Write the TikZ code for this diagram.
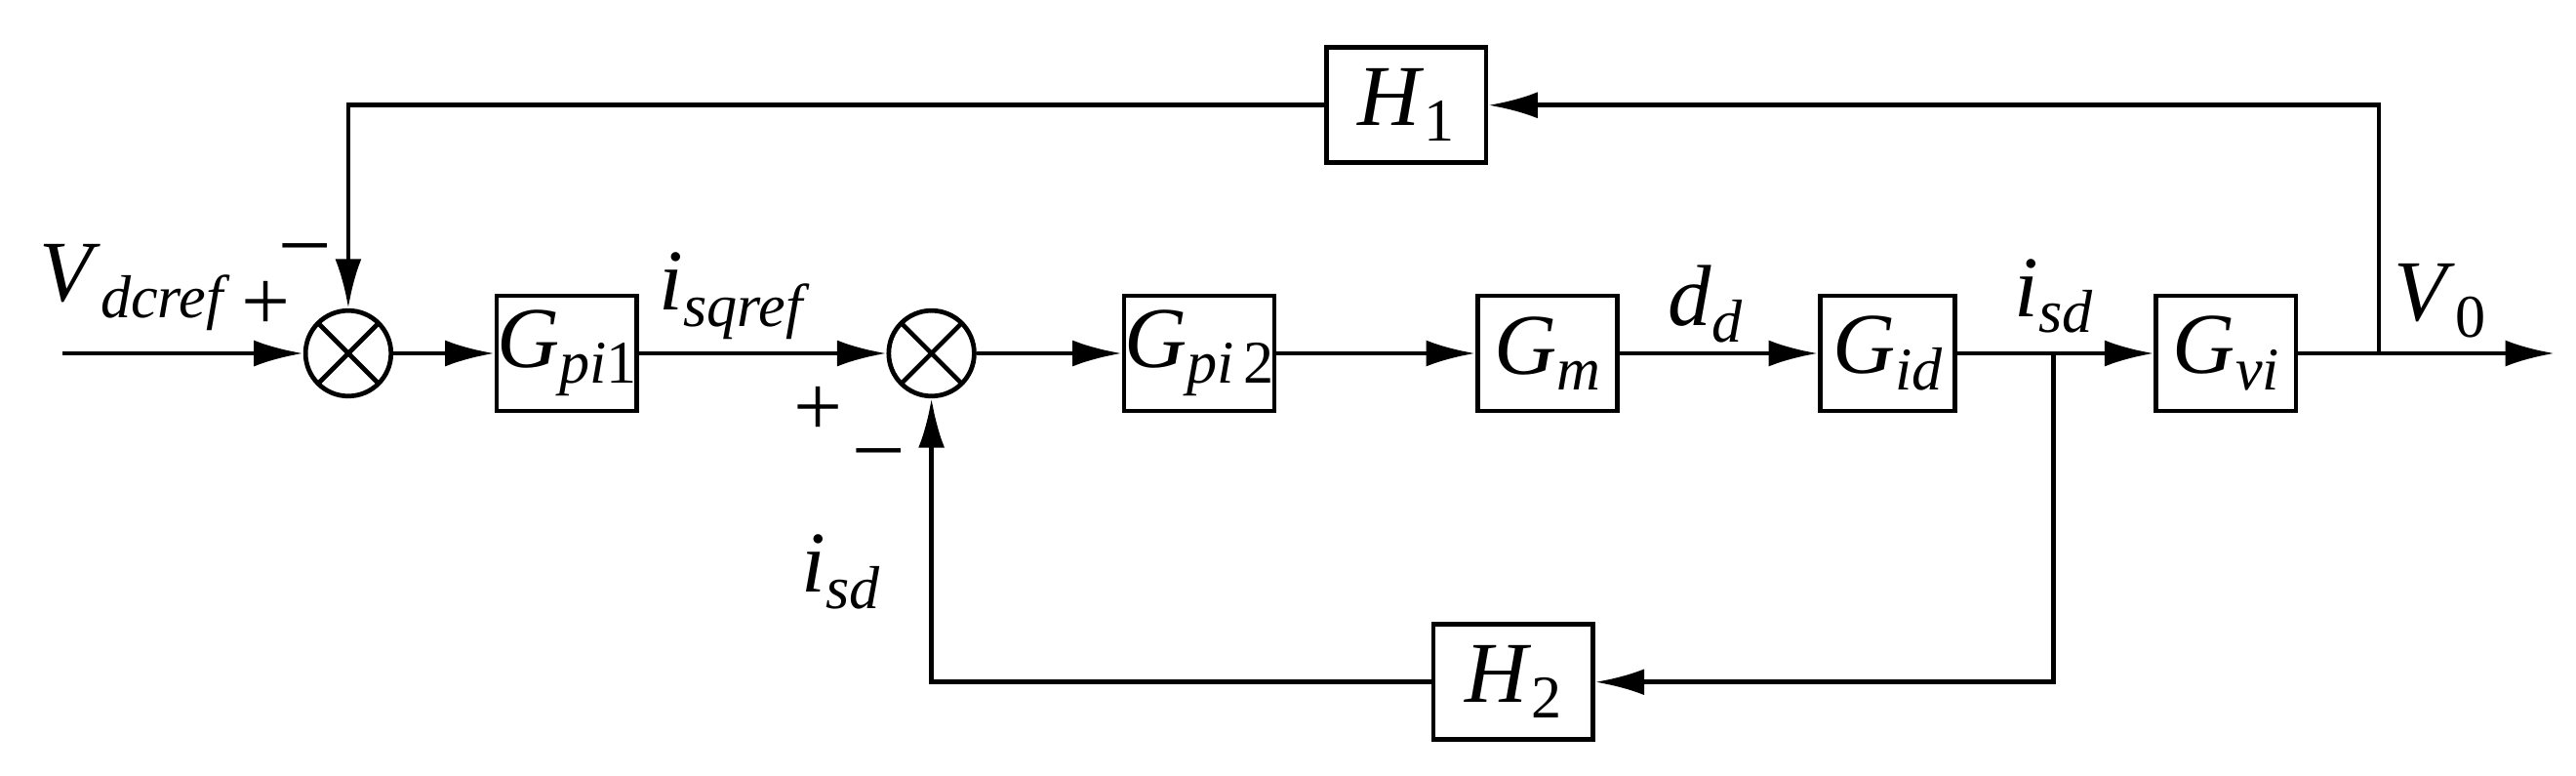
\documentclass[tikz,border=0pt]{standalone}
\usepackage{fontspec}
\setmainfont{Liberation Serif}
\usetikzlibrary{arrows.meta}
\newcommand{\mysub}[1]{\raisebox{-0.4ex}{\fontsize{10.5}{12}\selectfont #1}}
\begin{document}
\begin{tikzpicture}[x=0.01cm,y=-0.01cm,line width=0.8pt,
  every node/.style={font=\fontsize{15}{17}\selectfont},
  blk/.style={draw,minimum width=#1*0.01cm,minimum height=0.7cm,inner sep=0pt},
  sum/.style={draw,circle,minimum size=0.52cm,inner sep=0pt,path picture={
     \draw (path picture bounding box.north west)--(path picture bounding box.south east)
           (path picture bounding box.north east)--(path picture bounding box.south west);}},
  arr/.style={-{Latex[length=0.3cm,width=0.16cm]}},
  lbl/.style={inner sep=0pt}]
\useasboundingbox (0,0) rectangle (1568,472);
\coordinate (in) at (38,215);
\node[sum] (s1) at (212,215) {};
\node[blk=74] (g1) at (345,215) {\textit{G}\mysub{\textit{pi}1}};
\node[sum] (s2) at (567,215) {};
\node[blk=80] (g2) at (730,215) {\textit{G}\mysub{\textit{pi}\,2}};
\node[blk=85] (gm) at (942,215) {\textit{G}\mysub{\textit{m}}};
\node[blk=82] (gid) at (1149,215) {\textit{G}\mysub{\textit{id}}};
\node[blk=85] (gvi) at (1355,215) {\textit{G}\mysub{\textit{vi}}};
\coordinate (out) at (1555,215);
\coordinate (b1) at (1448,215);
\coordinate (b2) at (1250,215);
\node[blk=97] (h1) at (856,64) {\textit{H}\mysub{1}};
\node[blk=97] (h2) at (921,415) {\textit{H}\mysub{2}};
\draw[arr] (in)--(s1);
\draw[arr] (s1)--(g1);
\draw[arr] (g1)--(s2);
\draw[arr] (s2)--(g2);
\draw[arr] (g2)--(gm);
\draw[arr] (gm)--(gid);
\draw[arr] (gid)--(gvi);
\draw[arr] (gvi)--(out);
\draw[arr] (b1)|-(h1);
\draw[arr] (h1)-|(s1);
\draw[arr] (b2)|-(h2);
\draw[arr] (h2)-|(s2);
\node[lbl] (t1) at (82,175) {\textit{V}\mysub{\textit{dcref}}};
\node[lbl] (p1) at (162,186) {+};
\node[lbl] (m1) at (186,155) {–};
\node[lbl] (t2) at (447,180) {\textit{i}\mysub{\textit{sqref}}};
\node[lbl] (p2) at (498,250) {+};
\node[lbl] (m2) at (535,280) {–};
\node[lbl] (t3) at (512,348) {\textit{i}\mysub{\textit{sd}}};
\node[lbl] (t4) at (1038,185) {\textit{d}\mysub{\textit{d}}};
\node[lbl] (t5) at (1250,180) {\textit{i}\mysub{\textit{sd}}};
\node[lbl] (t6) at (1485,183) {\textit{V}\mysub{0}};
\end{tikzpicture}
\end{document}
